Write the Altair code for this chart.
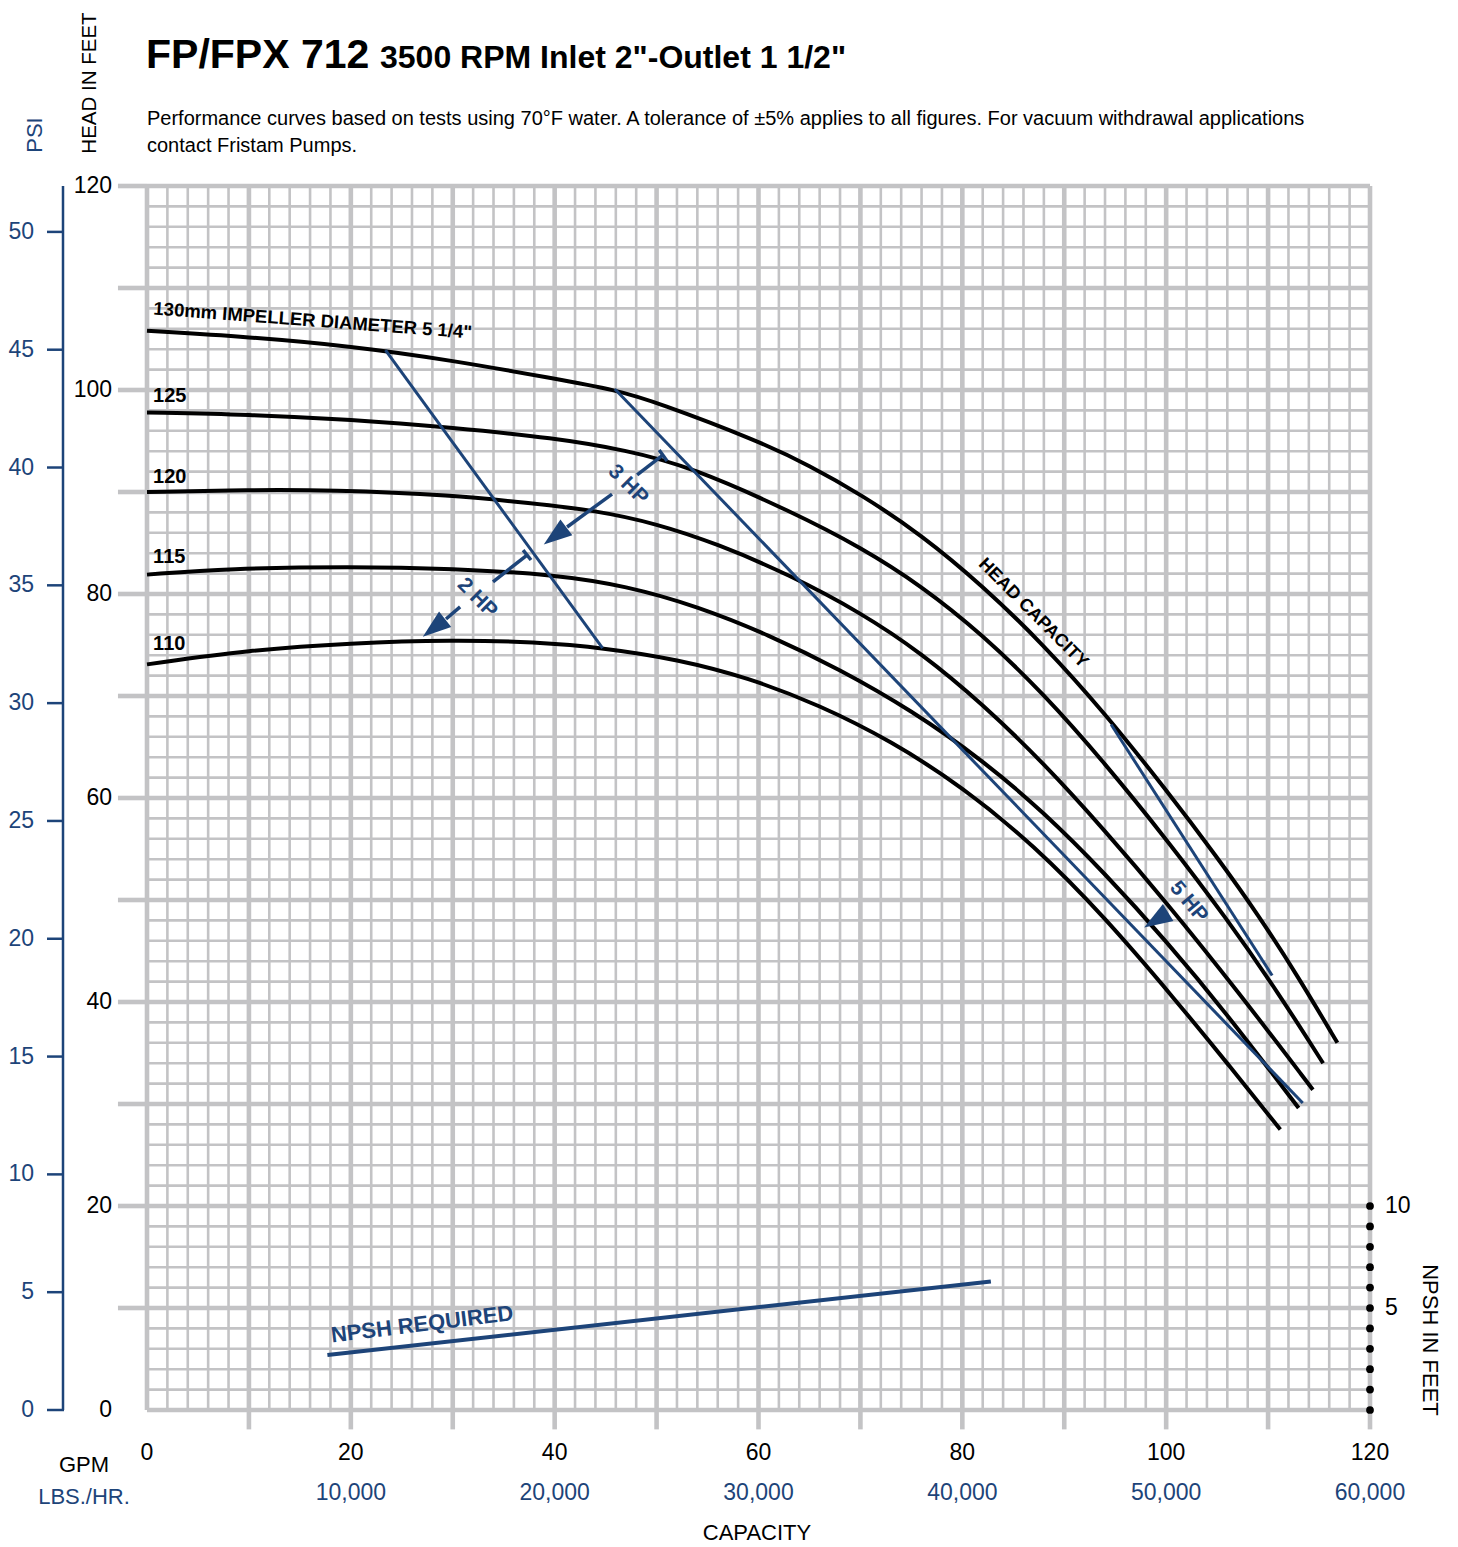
import altair as alt
import pandas as pd

FONT = "Liberation Sans, Arial, Helvetica, sans-serif"
BLUE = "#1d4479"
GRID = "#c3c3c5"
X0, Y0 = 147, 186  # page position of plot origin (for pixel-placed page texts)
W, H = 1223, 1224

# ---------------- data ----------------
imp130_gpm = [0, 10, 20, 30, 40, 46, 50, 60, 65, 70, 76, 82, 88, 94, 100, 105, 109, 113, 116.8]
imp130_ft = [105.8, 105.2, 104.3, 102.9, 101.1, 100.0, 98.8, 95.0, 92.6, 89.8, 85.8, 80.8, 75.0, 68.3, 60.8, 54.2, 48.6, 42.4, 36.0]
imp125_gpm = [0, 10, 20, 30, 40, 47, 53.3, 63.4, 70, 76, 82, 88, 94, 100, 106, 111, 115.4]
imp125_ft = [97.8, 97.6, 97.1, 96.3, 95.3, 94.1, 92.5, 88.0, 84.6, 80.8, 76.0, 70.2, 63.4, 56.0, 48.1, 40.9, 34.0]
imp120_gpm = [0, 10, 18, 30, 37.6, 44, 50, 56, 63, 70, 76, 82, 88, 94, 100, 107, 114.4]
imp120_ft = [90.0, 90.2, 90.2, 89.7, 88.9, 88.2, 86.9, 84.9, 81.9, 78.2, 74.2, 69.2, 63.4, 56.8, 49.8, 41.1, 31.4]
imp115_gpm = [0, 8, 20, 30, 40, 47, 54, 61, 68, 75, 82, 88, 94, 100, 106, 113]
imp115_ft = [81.9, 82.5, 82.7, 82.5, 81.9, 80.8, 78.8, 76.0, 72.6, 68.6, 63.7, 58.6, 52.6, 46.0, 38.8, 29.6]
imp110_gpm = [0, 10, 20, 30, 38, 45, 52, 59, 66, 73, 80, 87, 94, 101, 106, 111.2]
imp110_ft = [73.1, 74.5, 75.2, 75.5, 75.3, 74.7, 73.6, 71.8, 69.1, 65.6, 61.1, 55.4, 48.3, 40.1, 34.0, 27.5]

curve_names = ["130", "125", "120", "115", "110"]
curve_label_text = ['130mm IMPELLER DIAMETER 5 1/4"', "125", "120", "115", "110"]
curve_label_gpm = [0.6, 0.6, 0.6, 0.6, 0.6]
curve_label_ft = [107.4, 98.8, 90.9, 83.0, 74.5]
curve_label_angle = [4.3, 0, 0, 0, 0]
curve_label_size = [18.5, 20, 20, 20, 20]

# horsepower limit lines
hp_line_id = ["2-3", "2-3", "3-5", "3-5", "5", "5"]
hp_line_gpm = [23.4, 44.7, 45.9, 113.4, 94.6, 110.4]
hp_line_ft = [103.9, 74.7, 100.1, 30.1, 67.2, 42.6]

# horsepower arrows (shaft pieces) and heads
arrow_id = ["t3", "t3", "a3", "a3", "b3", "b3", "t2", "t2", "c2", "c2", "d2", "d2"]
arrow_gpm = [50.25, 51.03, 50.64, 48.09, 45.63, 41.22, 36.90, 37.68, 37.29, 33.95, 30.72, 29.34]
arrow_ft = [94.12, 93.04, 93.63, 91.67, 89.80, 86.57, 84.31, 83.33, 83.82, 81.18, 78.73, 77.55]
head_gpm = [40.04, 28.16, 99.02]
head_ft = [85.69, 76.67, 48.04]
head_angle = [233, 232, 238]
hp_text = ["3 HP", "2 HP", "5 HP"]
hp_text_gpm = [47.2, 32.4, 102.2]
hp_text_ft = [90.7, 79.6, 49.8]
hp_text_angle = [45, 45, 50]

# NPSH required (NPSH feet)
npsh_gpm = [17.7, 82.8]
npsh_ft = [2.7, 6.3]
npsh_ticks = [0, 1, 2, 3, 4, 5, 6, 7, 8, 9, 10]
npsh_label_vals = [5, 10]

# PSI axis
psi_ticks = [0, 5, 10, 15, 20, 25, 30, 35, 40, 45, 50]
FT_PER_PSI = 2.31

# capacity / head axis labels
gpm_labels = [0, 20, 40, 60, 80, 100, 120]
head_labels = [0, 20, 40, 60, 80, 100, 120]
lbs_gpm = [20, 40, 60, 80, 100, 120]
lbs_text = ["10,000", "20,000", "30,000", "40,000", "50,000", "60,000"]

grid_minor = [v for v in range(0, 121, 2) if v % 10]
grid_major = list(range(0, 121, 10))
tick_major = list(range(10, 121, 10))

# ---------------- chart ----------------
xs = alt.Scale(domain=[0, 120], nice=False, zero=False)
ys = alt.Scale(domain=[0, 120], nice=False, zero=False)


def X(field):
    return alt.X(field, type="quantitative", scale=xs, axis=None)


def Y(field):
    return alt.Y(field, type="quantitative", scale=ys, axis=None)


hidden_axis = alt.Axis(labels=False, ticks=False, domain=False, grid=False, title=None)

layers = []

# invisible base layer carrying the (hidden) axes
layers.append(alt.Chart(pd.DataFrame({"gpm": [0], "ft": [0]})).mark_point(opacity=0).encode(
    x=alt.X("gpm:Q", scale=xs, axis=hidden_axis),
    y=alt.Y("ft:Q", scale=ys, axis=hidden_axis)))

# grid
gmin = pd.DataFrame({"v": grid_minor})
gmaj = pd.DataFrame({"v": grid_major})
gtk = pd.DataFrame({"v": tick_major})
layers.append(alt.Chart(gmin).mark_rule(color=GRID, strokeWidth=2.6).encode(
    x=X("v"), y=alt.datum(0), y2=alt.datum(120)))
layers.append(alt.Chart(gmin).mark_rule(color=GRID, strokeWidth=2.6).encode(
    y=Y("v"), x=alt.datum(0), x2=alt.datum(120)))
layers.append(alt.Chart(gmaj).mark_rule(color=GRID, strokeWidth=4.6).encode(
    x=X("v"), y=alt.datum(0), y2=alt.datum(120)))
layers.append(alt.Chart(gmaj).mark_rule(color=GRID, strokeWidth=4.6).encode(
    y=Y("v"), x=alt.datum(0), x2=alt.datum(120)))
# outward tick extensions of the major grid
layers.append(alt.Chart(gtk).mark_rule(color=GRID, strokeWidth=4.6).encode(
    x=X("v"), y=alt.datum(0), y2=alt.datum(-1.9)))
layers.append(alt.Chart(gtk).mark_rule(color=GRID, strokeWidth=4.6).encode(
    y=Y("v"), x=alt.datum(-2.85), x2=alt.datum(0)))

# axis labels
layers.append(alt.Chart(pd.DataFrame({"v": gpm_labels})).mark_text(
    font=FONT, fontSize=23, color="black", align="center", baseline="alphabetic").encode(
    x=X("v"), y=alt.value(1460 - Y0), text="v:Q"))
layers.append(alt.Chart(pd.DataFrame({"v": head_labels})).mark_text(
    font=FONT, fontSize=23, color="black", align="right", baseline="middle").encode(
    x=alt.value(112 - X0), y=Y("v"), text="v:Q"))

# impeller curves
rows = []
for name, gx, fy in zip(curve_names,
                        [imp130_gpm, imp125_gpm, imp120_gpm, imp115_gpm, imp110_gpm],
                        [imp130_ft, imp125_ft, imp120_ft, imp115_ft, imp110_ft]):
    for i, (a, b) in enumerate(zip(gx, fy)):
        rows.append({"curve": name, "gpm": a, "ft": b, "o": i})
curves = pd.DataFrame(rows)
layers.append(alt.Chart(curves).mark_line(color="black", strokeWidth=4, interpolate="basis").encode(
    x=X("gpm"), y=Y("ft"), detail="curve:N", order="o:Q"))

# horsepower lines
hpdf = pd.DataFrame({"id": hp_line_id, "gpm": hp_line_gpm, "ft": hp_line_ft})
layers.append(alt.Chart(hpdf).mark_line(color=BLUE, strokeWidth=3).encode(
    x=X("gpm"), y=Y("ft"), detail="id:N"))

# arrows
adf = pd.DataFrame({"id": arrow_id, "gpm": arrow_gpm, "ft": arrow_ft})
layers.append(alt.Chart(adf).mark_line(color=BLUE, strokeWidth=3.5).encode(
    x=X("gpm"), y=Y("ft"), detail="id:N"))
hdf = pd.DataFrame({"gpm": head_gpm, "ft": head_ft, "ang": head_angle})
layers.append(alt.Chart(hdf).mark_point(shape="M0,-1L0.7,1L-0.7,1Z", filled=True, size=800,
                                        color=BLUE, opacity=1, strokeWidth=0).encode(
    x=X("gpm"), y=Y("ft"), angle=alt.Angle("ang:Q", scale=None)))
htdf = pd.DataFrame({"t": hp_text, "gpm": hp_text_gpm, "ft": hp_text_ft, "ang": hp_text_angle})
layers.append(alt.Chart(htdf).mark_text(font=FONT, fontSize=21, fontWeight="bold", color=BLUE,
                                         align="center", baseline="middle").encode(
    x=X("gpm"), y=Y("ft"), text="t:N", angle=alt.Angle("ang:Q", scale=None)))

# NPSH required
ndf = pd.DataFrame({"gpm": npsh_gpm, "npsh": npsh_ft})
layers.append(alt.Chart(ndf).transform_calculate(ft="datum.npsh * 2").mark_line(
    color=BLUE, strokeWidth=4).encode(x=X("gpm"), y=Y("ft")))
layers.append(alt.Chart(pd.DataFrame({"t": ["NPSH REQUIRED"], "gpm": [27.0], "ft": [8.4]})).mark_text(
    font=FONT, fontSize=22, fontWeight="bold", color=BLUE, align="center", baseline="middle", angle=353).encode(
    x=X("gpm"), y=Y("ft"), text="t:N"))

# curve labels
cl = pd.DataFrame({"t": curve_label_text, "gpm": curve_label_gpm, "ft": curve_label_ft,
                   "ang": curve_label_angle, "sz": curve_label_size})
layers.append(alt.Chart(cl).mark_text(font=FONT, fontWeight="bold", color="black",
                                       align="left", baseline="alphabetic").encode(
    x=X("gpm"), y=Y("ft"), text="t:N", angle=alt.Angle("ang:Q", scale=None),
    size=alt.Size("sz:Q", scale=None, legend=None)))
layers.append(alt.Chart(pd.DataFrame({"t": ["HEAD CAPACITY"], "gpm": [86.95], "ft": [78.1]})).mark_text(
    font=FONT, fontSize=18, fontWeight="bold", color="black", align="center", baseline="middle", angle=45).encode(
    x=X("gpm"), y=Y("ft"), text="t:N"))

# NPSH right axis (dots + labels)
ndots = pd.DataFrame({"n": npsh_ticks, "gpm": [120] * len(npsh_ticks)})
layers.append(alt.Chart(ndots).transform_calculate(ft="datum.n * 2").mark_circle(
    color="black", size=60, opacity=1).encode(x=X("gpm"), y=Y("ft")))
nlab = pd.DataFrame({"n": npsh_label_vals})
layers.append(alt.Chart(nlab).transform_calculate(ft="datum.n * 2").mark_text(
    font=FONT, fontSize=23, color="black", align="left", baseline="middle").encode(
    x=alt.value(1385 - X0), y=Y("ft"), text="n:Q"))

# PSI axis (left, blue)
pdf = pd.DataFrame({"psi": psi_ticks})
layers.append(alt.Chart(pd.DataFrame({"a": [0], "b": [120]})).mark_rule(color=BLUE, strokeWidth=2.5).encode(
    x=alt.value(63 - X0), y=Y("a"), y2="b:Q"))
layers.append(alt.Chart(pdf).transform_calculate(ft="datum.psi * %s" % FT_PER_PSI).mark_rule(
    color=BLUE, strokeWidth=2.5).encode(x=alt.value(47 - X0), x2=alt.value(64 - X0), y=Y("ft")))
layers.append(alt.Chart(pdf).transform_calculate(ft="datum.psi * %s" % FT_PER_PSI).mark_text(
    font=FONT, fontSize=23, color=BLUE, align="right", baseline="middle").encode(
    x=alt.value(34 - X0), y=Y("ft"), text="psi:Q"))

# LBS./HR. labels
ldf = pd.DataFrame({"gpm": lbs_gpm, "t": lbs_text})
layers.append(alt.Chart(ldf).mark_text(font=FONT, fontSize=23, color=BLUE, align="center",
                                        baseline="alphabetic").encode(
    x=X("gpm"), y=alt.value(1500 - Y0), text="t:N"))


def ptext(s, px, py, size, weight="normal", color="black", angle=0, align="left", baseline="alphabetic"):
    return alt.Chart(pd.DataFrame({"t": [s]})).mark_text(
        font=FONT, fontSize=size, fontWeight=weight, color=color, angle=angle,
        align=align, baseline=baseline).encode(x=alt.value(px - X0), y=alt.value(py - Y0), text="t:N")


layers += [
    ptext("FP/FPX 712", 146, 68, 41, weight="bold"),
    ptext('3500 RPM Inlet 2"-Outlet 1 1/2"', 380, 68, 32, weight="bold"),
    ptext("Performance curves based on tests using 70\u00b0F water.  A tolerance of \u00b15% applies to all figures. "
          "For vacuum withdrawal applications", 147, 125, 20),
    ptext("contact Fristam Pumps.", 147, 152, 20),
    ptext("HEAD IN FEET", 90, 83, 20.5, angle=270, align="center", baseline="middle"),
    ptext("PSI", 35, 135, 22, color=BLUE, angle=270, align="center", baseline="middle"),
    ptext("GPM", 84, 1472, 22, align="center"),
    ptext("LBS./HR.", 84, 1504, 22, color=BLUE, align="center"),
    ptext("CAPACITY", 757, 1540, 22, align="center"),
    ptext("NPSH IN FEET", 1430, 1340, 22, angle=90, align="center", baseline="middle"),
]

chart = alt.layer(*layers).properties(
    width=W, height=H, autosize="none",
    padding={"left": 139, "top": 178, "right": 80, "bottom": 137},
    background="white",
).configure_view(stroke="transparent")

chart.save("out.html", embed_options={"renderer": "svg", "actions": False})
